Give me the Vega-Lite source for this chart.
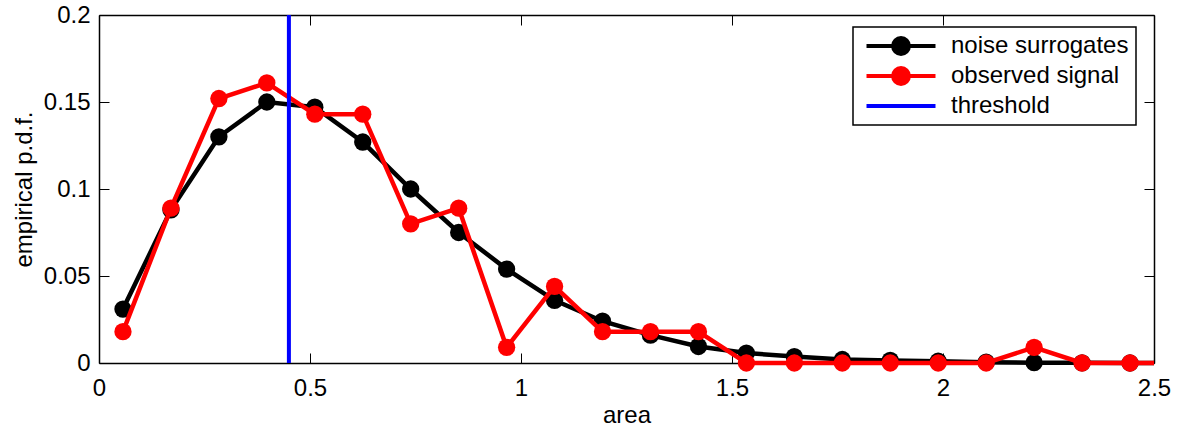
{
  "$schema": "https://vega.github.io/schema/vega-lite/v6.json",
  "width": 1055,
  "height": 348,
  "autosize": {"type": "none"},
  "padding": {"left": 99, "top": 15, "right": 29, "bottom": 72},
  "config": {
    "view": {"stroke": null},
    "font": "Liberation Sans",
    "axis": {
      "domainColor": "black", "domainWidth": 1.5, "tickColor": "black", "tickWidth": 1,
      "labelColor": "black", "labelFontSize": 24, "titleFontSize": 24, "titleFontWeight": "normal",
      "titleColor": "black", "grid": false, "tickSize": -10, "labelFlush": false, "labelOverlap": false
    }
  },
  "datasets": {
    "pdf": [
      {"x": 0.0568, "y": 0.031, "s": "noise surrogates"},
      {"x": 0.1705, "y": 0.088, "s": "noise surrogates"},
      {"x": 0.2841, "y": 0.130, "s": "noise surrogates"},
      {"x": 0.3977, "y": 0.150, "s": "noise surrogates"},
      {"x": 0.5114, "y": 0.147, "s": "noise surrogates"},
      {"x": 0.6250, "y": 0.127, "s": "noise surrogates"},
      {"x": 0.7386, "y": 0.100, "s": "noise surrogates"},
      {"x": 0.8523, "y": 0.075, "s": "noise surrogates"},
      {"x": 0.9659, "y": 0.054, "s": "noise surrogates"},
      {"x": 1.0795, "y": 0.036, "s": "noise surrogates"},
      {"x": 1.1932, "y": 0.024, "s": "noise surrogates"},
      {"x": 1.3068, "y": 0.016, "s": "noise surrogates"},
      {"x": 1.4205, "y": 0.0095, "s": "noise surrogates"},
      {"x": 1.5341, "y": 0.0057, "s": "noise surrogates"},
      {"x": 1.6477, "y": 0.0037, "s": "noise surrogates"},
      {"x": 1.7614, "y": 0.002, "s": "noise surrogates"},
      {"x": 1.8750, "y": 0.0015, "s": "noise surrogates"},
      {"x": 1.9886, "y": 0.001, "s": "noise surrogates"},
      {"x": 2.1023, "y": 0.0005, "s": "noise surrogates"},
      {"x": 2.2159, "y": 0.0002, "s": "noise surrogates"},
      {"x": 2.3295, "y": 0.0001, "s": "noise surrogates"},
      {"x": 2.4432, "y": 0, "s": "noise surrogates"},
      {"x": 2.5568, "y": 0, "s": "noise surrogates"},
      {"x": 0.0568, "y": 0.018, "s": "observed signal"},
      {"x": 0.1705, "y": 0.089, "s": "observed signal"},
      {"x": 0.2841, "y": 0.152, "s": "observed signal"},
      {"x": 0.3977, "y": 0.161, "s": "observed signal"},
      {"x": 0.5114, "y": 0.143, "s": "observed signal"},
      {"x": 0.6250, "y": 0.143, "s": "observed signal"},
      {"x": 0.7386, "y": 0.080, "s": "observed signal"},
      {"x": 0.8523, "y": 0.089, "s": "observed signal"},
      {"x": 0.9659, "y": 0.009, "s": "observed signal"},
      {"x": 1.0795, "y": 0.044, "s": "observed signal"},
      {"x": 1.1932, "y": 0.018, "s": "observed signal"},
      {"x": 1.3068, "y": 0.018, "s": "observed signal"},
      {"x": 1.4205, "y": 0.018, "s": "observed signal"},
      {"x": 1.5341, "y": 0, "s": "observed signal"},
      {"x": 1.6477, "y": 0, "s": "observed signal"},
      {"x": 1.7614, "y": 0, "s": "observed signal"},
      {"x": 1.8750, "y": 0, "s": "observed signal"},
      {"x": 1.9886, "y": 0, "s": "observed signal"},
      {"x": 2.1023, "y": 0, "s": "observed signal"},
      {"x": 2.2159, "y": 0.009, "s": "observed signal"},
      {"x": 2.3295, "y": 0, "s": "observed signal"},
      {"x": 2.4432, "y": 0, "s": "observed signal"},
      {"x": 2.5568, "y": 0, "s": "observed signal"}
    ],
    "thr": [{"x": 0.45, "s": "threshold"}]
  },
  "layer": [
    {
      "data": {"name": "pdf"},
      "transform": [{"filter": "datum.s === 'noise surrogates'"}],
      "mark": {"type": "line", "strokeWidth": 4.5},
      "encoding": {
        "x": {"field": "x", "type": "quantitative",
          "scale": {"domain": [0, 2.5], "nice": false, "zero": false, "clamp": true},
          "axis": {"orient": "bottom", "values": [0, 0.5, 1, 1.5, 2, 2.5], "format": "~g", "labelPadding": 23, "title": "area", "titlePadding": 3}},
        "y": {"field": "y", "type": "quantitative",
          "scale": {"domain": [0, 0.2], "nice": false, "zero": false},
          "axis": {"orient": "left", "values": [0, 0.05, 0.1, 0.15, 0.2], "format": "~g", "labelPadding": 19, "title": "empirical p.d.f.", "titlePadding": 7}},
        "color": {"field": "s", "type": "nominal",
          "scale": {"domain": ["noise surrogates", "observed signal", "threshold"], "range": ["#000000", "#ff0000", "#0000ff"]},
          "legend": {
            "title": null, "orient": "none", "legendX": 754, "legendY": 12,
            "padding": 7, "rowPadding": 6, "strokeColor": "black", "fillColor": "white",
            "labelFontSize": 24, "labelColor": "black", "labelLimit": 400, "labelExpr": "datum.label + '  '",
            "clipHeight": 24,
            "symbolSize": 100, "symbolStrokeWidth": 4, "symbolOffset": 4.5, "labelOffset": 13.5,
            "encode": {
              "legend": {"update": {"strokeWidth": {"value": 1.5}}},
              "symbols": {"update": {
                "shape": {"signal": "datum.value === 'threshold' ? 'M-1,0L1,0' : 'M-1,0L1,0M0.23,0A0.23,0.23,0,1,1,-0.23,0A0.23,0.23,0,1,1,0.23,0Z'"},
                "size": {"value": 4761},
                "fill": {"scale": "color", "field": "value"},
                "stroke": {"scale": "color", "field": "value"},
                "strokeWidth": {"value": 4},
                "opacity": {"value": 1}, "fillOpacity": {"value": 1}, "strokeOpacity": {"value": 1}
              }}
            }
          }}
      }
    },
    {
      "data": {"name": "pdf"},
      "transform": [{"filter": "datum.s === 'noise surrogates' && datum.x < 2.5"}],
      "mark": {"type": "point", "filled": true, "size": 300, "opacity": 1, "strokeWidth": 0},
      "encoding": {
        "x": {"field": "x", "type": "quantitative", "axis": null},
        "y": {"field": "y", "type": "quantitative", "axis": null},
        "color": {"field": "s", "type": "nominal"}
      }
    },
    {
      "data": {"name": "pdf"},
      "transform": [{"filter": "datum.s === 'observed signal'"}],
      "mark": {"type": "line", "strokeWidth": 4.5},
      "encoding": {
        "x": {"field": "x", "type": "quantitative", "axis": null},
        "y": {"field": "y", "type": "quantitative", "axis": null},
        "color": {"field": "s", "type": "nominal"}
      }
    },
    {
      "data": {"name": "pdf"},
      "transform": [{"filter": "datum.s === 'observed signal' && datum.x < 2.5"}],
      "mark": {"type": "point", "filled": true, "size": 300, "opacity": 1, "strokeWidth": 0},
      "encoding": {
        "x": {"field": "x", "type": "quantitative", "axis": null},
        "y": {"field": "y", "type": "quantitative", "axis": null},
        "color": {"field": "s", "type": "nominal"}
      }
    },
    {
      "data": {"name": "thr"},
      "mark": {"type": "rule", "strokeWidth": 4},
      "encoding": {
        "x": {"field": "x", "type": "quantitative",
          "axis": {"orient": "top", "values": [0, 0.5, 1, 1.5, 2, 2.5], "labels": false, "title": null}},
        "y": {"datum": 0, "type": "quantitative",
          "axis": {"orient": "right", "values": [0, 0.05, 0.1, 0.15, 0.2], "labels": false, "title": null}},
        "y2": {"datum": 0.2},
        "color": {"field": "s", "type": "nominal"}
      }
    }
  ],
  "resolve": {"axis": {"x": "independent", "y": "independent"}}
}
